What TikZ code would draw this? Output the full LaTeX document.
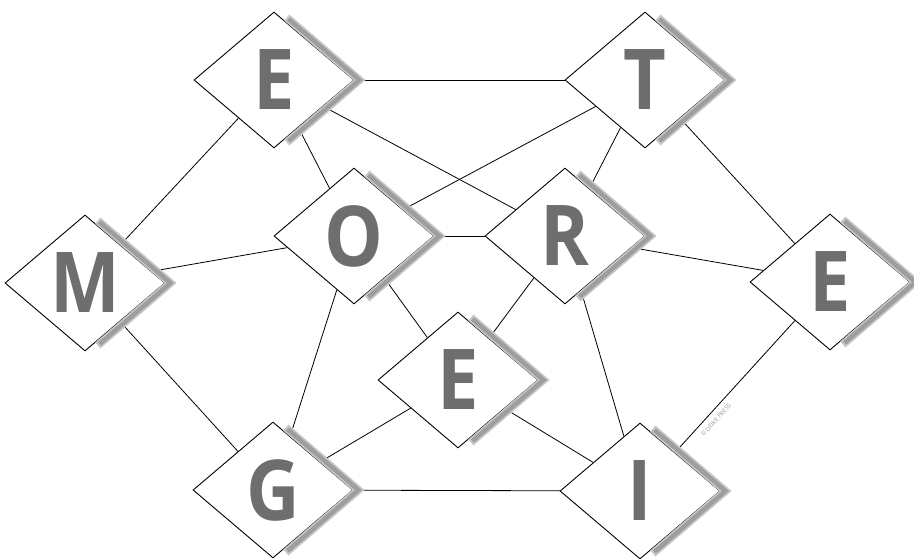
\documentclass[tikz,border=0pt]{standalone}
\usepackage{fontspec}
\setmainfont{Open Sans}
\usetikzlibrary{shapes.geometric,calc}

\begin{document}
\begin{tikzpicture}[
    x=1pt, y=-1pt,
    letter/.style={diamond, draw, fill=white, line width=0.9pt, minimum width=160pt, minimum height=136pt, inner sep=0pt, font=\fontsize{84}{84}\selectfont\bfseries, text=black!57},
    link/.style={draw, line width=0.8pt},
    dropshade/.style={draw=black!#1, line join=miter},
]
\useasboundingbox (0,0) rectangle (914,559);
% letter diamonds
\node[letter] (eTop) at (274,80) {\scalebox{0.88}[1]{E}};
\node[letter] (tee) at (645,80) {\scalebox{0.88}[1]{T}};
\node[letter] (emm) at (85,283) {\scalebox{0.88}[1]{M}};
\node[letter] (oh) at (354,236) {\scalebox{0.88}[1]{O}};
\node[letter] (arr) at (565,236) {\scalebox{0.88}[1]{R}};
\node[letter] (eRight) at (830,282) {\scalebox{0.88}[1]{E}};
\node[letter] (eMid) at (458,380) {\scalebox{0.88}[1]{E}};
\node[letter] (gee) at (273,490) {\scalebox{0.88}[1]{G}};
\node[letter] (eye) at (640,491) {\scalebox{0.88}[1]{I}};
% connections
\foreach \a/\b in {eTop/tee, eTop/emm, eTop/oh, eTop/arr, tee/oh, tee/arr, tee/eRight, emm/oh, emm/gee, oh/arr, oh/eMid, oh/gee, arr/eRight, arr/eMid, arr/eye, eRight/eye, eMid/gee, eMid/eye, gee/eye}
    \draw[link] (\a) -- (\b);
% shadows on the right edges
\foreach \n in {eTop, tee, emm, oh, arr, eRight, eMid, gee, eye} {
    \draw[dropshade=22, line width=8pt] ($([yshift=5pt]\n.north)!0.15!([xshift=5pt]\n.east)$) -- ([xshift=5pt]\n.east) -- ($([yshift=-5pt]\n.south)!0.15!([xshift=5pt]\n.east)$);
    \draw[dropshade=38, line width=4.5pt] ($([yshift=5pt]\n.north)!0.17!([xshift=5pt]\n.east)$) -- ([xshift=5pt]\n.east) -- ($([yshift=-5pt]\n.south)!0.17!([xshift=5pt]\n.east)$);
}
\node[font=\fontsize{6}{6}\selectfont, text=black!40, rotate=48] (credit) at (716,420) {© DEIKE PRESS};
\end{tikzpicture}
\end{document}
